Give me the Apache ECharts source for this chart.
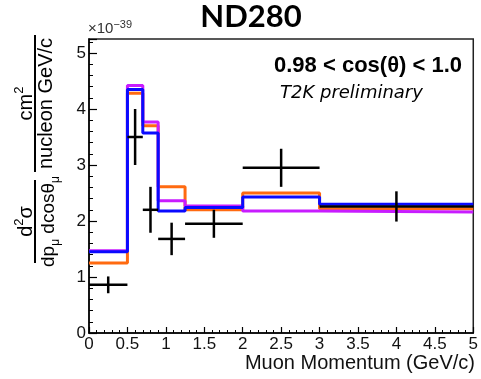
<!DOCTYPE html>
<html>
<head>
<meta charset="utf-8">
<script src="https://cdn.jsdelivr.net/npm/echarts@6/dist/echarts.min.js"></script>
<style>
  html, body { margin: 0; padding: 0; background: #fff; }
  #chart { width: 481px; height: 379px; }
</style>
</head>
<body>
<div id="chart"></div>
<script>
// Muon momentum bin edges (GeV/c)
const binEdges = [0, 0.5, 0.7, 0.9, 1.25, 2.0, 3.0, 5.0];

// Measured cross section per bin (x 1e-39) and its uncertainty
const dataValues = [0.86, 3.50, 2.20, 1.68, 1.95, 2.95, 2.26];
const dataErrors = [0.15, 0.50, 0.41, 0.29, 0.25, 0.34, 0.27];

// Model predictions per bin (x 1e-39)
const orangeModel  = [1.25, 4.28, 3.70, 2.61, 2.20, 2.50, 2.22];
const magentaModel = [1.47, 4.42, 3.77, 2.36, 2.27, 2.18, 2.16];
const blueModel    = [1.45, 4.35, 3.57, 2.18, 2.24, 2.43, 2.30];

// Axis tick values
const xTicks = [0, 0.5, 1, 1.5, 2, 2.5, 3, 3.5, 4, 4.5, 5];
const yTicks = [0, 1, 2, 3, 4, 5];

const FONT = '"Liberation Sans", Arial, Helvetica, sans-serif';

// Turn per-bin values into a stepped outline
function histOutline(values) {
  const pts = [];
  values.forEach((v, i) => {
    pts.push([binEdges[i], v]);
    pts.push([binEdges[i + 1], v]);
  });
  return pts;
}

function histSeries(name, values, color) {
  return {
    name: name,
    type: 'line',
    data: histOutline(values),
    showSymbol: false,
    symbol: 'none',
    lineStyle: { color: color, width: 3 },
    silent: true,
    z: 2
  };
}

const errorData = dataValues.map((v, i) => [binEdges[i], binEdges[i + 1], v, dataErrors[i]]);

const chart = echarts.init(document.getElementById('chart'), null, { renderer: 'canvas' });

chart.setOption({
  animation: false,
  backgroundColor: '#ffffff',
  grid: {
    left: 89, top: 39, right: 5, bottom: 46,
    show: true, borderColor: '#222', borderWidth: 1.5, backgroundColor: 'transparent'
  },
  xAxis: {
    type: 'value',
    min: xTicks[0],
    max: xTicks[xTicks.length - 1],
    interval: xTicks[1] - xTicks[0],
    axisLine: { show: true, onZero: false, lineStyle: { color: '#000', width: 1.5 } },
    axisTick: { show: true, inside: true, length: 6, lineStyle: { color: '#000', width: 1.2 } },
    minorTick: { show: true, splitNumber: 5, length: 3, lineStyle: { color: '#000', width: 1 } },
    splitLine: { show: false },
    axisLabel: {
      color: '#111', fontFamily: FONT, fontSize: 17, margin: 3,
      formatter: v => String(v)
    }
  },
  yAxis: {
    type: 'value',
    min: yTicks[0],
    max: 5.25,
    interval: yTicks[1] - yTicks[0],
    axisLine: { show: true, onZero: false, lineStyle: { color: '#000', width: 1.5 } },
    axisTick: { show: true, inside: true, length: 8, lineStyle: { color: '#000', width: 1.2 } },
    minorTick: { show: true, splitNumber: 5, length: 4, lineStyle: { color: '#000', width: 1 } },
    splitLine: { show: false },
    axisLabel: {
      color: '#111', fontFamily: FONT, fontSize: 17, margin: 3,
      showMaxLabel: false,
      formatter: v => (yTicks.indexOf(v) >= 0 ? String(v) : '')
    }
  },
  series: [
    histSeries('orange', orangeModel, '#ff6a10'),
    histSeries('magenta', magentaModel, '#c81cff'),
    histSeries('blue', blueModel, '#0a0aff'),
    {
      name: 'data',
      type: 'custom',
      data: errorData,
      encode: { x: [0, 1], y: 2 },
      z: 5,
      silent: true,
      renderItem: function (params, api) {
        const lo = api.value(0), hi = api.value(1), y = api.value(2), e = api.value(3);
        const mid = (lo + hi) / 2;
        const pL = api.coord([lo, y]);
        const pR = api.coord([hi, y]);
        const pT = api.coord([mid, y + e]);
        const pB = api.coord([mid, y - e]);
        const st = { stroke: '#000', lineWidth: 2.5 };
        return {
          type: 'group',
          children: [
            { type: 'line', shape: { x1: pL[0], y1: pL[1], x2: pR[0], y2: pR[1] }, style: st },
            { type: 'line', shape: { x1: pT[0], y1: pT[1], x2: pB[0], y2: pB[1] }, style: st }
          ]
        };
      }
    }
  ],
  graphic: {
    elements: [
      {
        type: 'text', x: 251, y: 17,
        style: {
          text: 'ND280', fill: '#000', font: 'bold 31px Lato, "Liberation Sans", sans-serif',
          align: 'center', verticalAlign: 'middle'
        }
      },
      {
        type: 'text', x: 88, y: 29,
        style: {
          text: '×10{sup|−39}', fill: '#333', fontFamily: FONT, fontSize: 15,
          align: 'left', verticalAlign: 'middle',
          rich: {
            sup: { fontSize: 11, fontFamily: FONT, fill: '#333', verticalAlign: 'top', lineHeight: 11 }
          },
          lineHeight: 20
        }
      },
      {
        type: 'text', x: 462, y: 66,
        style: {
          text: '0.98 < cos(θ) < 1.0', fill: '#000',
          font: 'bold 22px ' + FONT, align: 'right', verticalAlign: 'middle'
        }
      },
      {
        type: 'text', x: 280, y: 93,
        style: {
          text: 'T2K preliminary', fill: '#000',
          font: 'italic 18px "DejaVu Sans", sans-serif', align: 'left', verticalAlign: 'middle'
        }
      },
      {
        type: 'text', x: 475, y: 363,
        style: {
          text: 'Muon Momentum (GeV/c)', fill: '#111',
          font: '20px ' + FONT, align: 'right', verticalAlign: 'middle'
        }
      },
      {
        // vertical axis title, written left to right then turned to read upward
        type: 'group', x: 0, y: 263, rotation: Math.PI / 2,
        children: [
          { type: 'line', shape: { x1: 0, y1: 35, x2: 83, y2: 35 }, style: { stroke: '#000', lineWidth: 2 } },
          {
            type: 'text', x: 41.5, y: 26,
            style: {
              text: 'd{sup|2}σ', fill: '#000', fontFamily: FONT, fontSize: 20,
              align: 'center', verticalAlign: 'middle', lineHeight: 26,
              rich: { sup: { fontSize: 13, fontFamily: FONT, fill: '#000', verticalAlign: 'top', lineHeight: 13 } }
            }
          },
          {
            type: 'text', x: 41.5, y: 49,
            style: {
              text: 'dp{sub|μ} dcosθ{sub|μ}', fill: '#000', fontFamily: FONT, fontSize: 19,
              align: 'center', verticalAlign: 'middle', lineHeight: 26,
              rich: { sub: { fontSize: 12, fontFamily: FONT, fill: '#000', verticalAlign: 'bottom', lineHeight: 12 } }
            }
          },
          { type: 'line', shape: { x1: 91, y1: 35, x2: 228, y2: 35 }, style: { stroke: '#000', lineWidth: 2 } },
          {
            type: 'text', x: 159.5, y: 26,
            style: {
              text: 'cm{sup|2}', fill: '#000', fontFamily: FONT, fontSize: 20,
              align: 'center', verticalAlign: 'middle', lineHeight: 26,
              rich: { sup: { fontSize: 13, fontFamily: FONT, fill: '#000', verticalAlign: 'top', lineHeight: 13 } }
            }
          },
          {
            type: 'text', x: 159.5, y: 46,
            style: {
              text: 'nucleon GeV/c', fill: '#000', fontFamily: FONT, fontSize: 20,
              align: 'center', verticalAlign: 'middle'
            }
          }
        ]
      }
    ]
  }
});
</script>
</body>
</html>
